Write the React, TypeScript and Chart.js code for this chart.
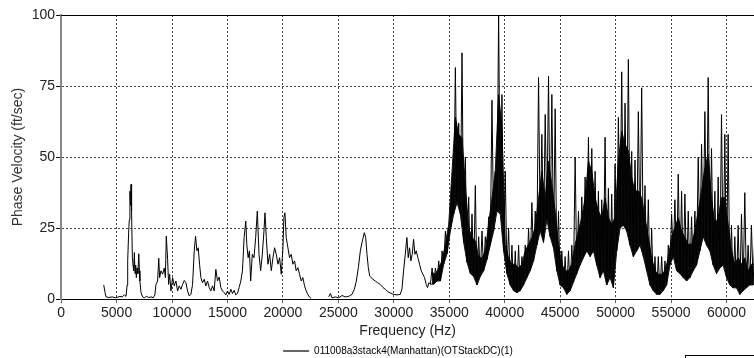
import React, { useEffect, useRef } from 'react';
import { Chart, registerables } from 'chart.js';

Chart.register(...registerables);

const SERIES_LABEL = '011008a3stack4(Manhattan)(OTStackDC)(1)';
const X_TITLE = 'Frequency (Hz)';
const Y_TITLE = 'Phase Velocity (ft/sec)';
const X_MIN = 0;
const X_MAX = 62480;
const X_TICKS = [0, 5000, 10000, 15000, 20000, 25000, 30000, 35000, 40000, 45000, 50000, 55000, 60000];
const Y_MIN = 0;
const Y_MAX = 100;
const Y_TICKS = [0, 25, 50, 75, 100];

// Sparse (single trace) part, 3.8 kHz to 33 kHz. null = no data (gap).
const lowFreq = [
  3840, 3950, 4050, 4300, 4600, 4900, 5100, 5300, 5500, 5700, 5850, 5950, 6000, 6090, 6150, 6200, 6260, 6300, 6340, 6360,
  6420, 6480, 6540, 6600, 6660, 6720, 6780, 6850, 6920, 7000, 7060, 7100, 7200, 7350, 7500, 7700, 7900, 8100, 8300, 8450,
  8550, 8700, 8800, 8880, 9000, 9150, 9300, 9400, 9480, 9600, 9690, 9780, 9900, 10050, 10200, 10350, 10500, 10650, 10800, 10950,
  11100, 11250, 11400, 11550, 11700, 11850, 12000, 12120, 12240, 12360, 12480, 12600, 12750, 12900, 13050, 13200, 13350, 13500, 13650, 13800,
  13950, 14100, 14250, 14400, 14550, 14700, 14850, 15000, 15150, 15300, 15450, 15600, 15750, 15900, 16050, 16200, 16350, 16500, 16650, 16740,
  16860, 16980, 17090, 17240, 17390, 17540, 17690, 17840, 17990, 18140, 18290, 18380, 18500, 18650, 18800, 18950, 19100, 19250, 19400, 19550,
  19700, 19850, 20000, 20085, 20180, 20295, 20450, 20595, 20750, 20895, 21050, 21195, 21350, 21495, 21650, 21795, 21950, 22094, 22240, 22390,
  22540, 23300, 24130, 24280, 24430, 24730, 25030, 25330, 25630, 25930, 26230, 26440, 26620, 26800, 26980, 27160, 27340, 27460, 27580, 27700,
  27820, 27940, 28120, 28330, 28540, 28780, 29020, 29230, 29440, 29680, 29980, 30280, 30580, 30730, 30880, 31030, 31180, 31300, 31420, 31540,
  31660, 31780, 31900, 32020, 32170, 32320, 32470, 32620, 32770, 32920, 33040, 33160,
];
const lowVel: (number | null)[] = [
  5.0, 2.5, 0.8, 0.6, 0.8, 0.5, 0.7, 1.0, 0.8, 1.5, 1.0, 5, 13.5, 24, 28, 38, 33, 40.4, 36, 31,
  14.6, 12, 10, 16.4, 9, 12, 7.6, 11, 9, 16, 10, 6.4, 2.3, 0.8, 0.5, 1.0, 0.6, 0.8, 0.5, 1.5,
  5.2, 6.4, 14.4, 7.6, 10, 8.8, 11, 7.6, 22.2, 14, 5.2, 8.8, 2.9, 7.6, 4.7, 6.4, 2.9, 4.7, 3.5, 5.2,
  6.6, 5.8, 2.9, 1.1, 1.7, 5.2, 17, 22.2, 17, 18.1, 12.3, 7.6, 5.8, 7, 4.7, 6.4, 4.1, 2.9, 4.7, 2.9,
  10.5, 6.4, 7.8, 4.1, 2.9, 2.3, 1.5, 2.9, 1.7, 3.5, 2, 3.1, 1.5, 2, 4.1, 6.4, 10, 21.7, 27.5, 19.3,
  14.6, 17, 6.4, 15.8, 14.6, 21.7, 31, 15.8, 10, 15.8, 24, 30.4, 21.7, 12.3, 15.8, 10, 14.6, 18.1, 15.8, 12.3,
  14.6, 8.8, 18.1, 28.7, 30.4, 21.7, 18.1, 14.6, 15.8, 12.3, 13.5, 10, 11.1, 8.8, 6.4, 7.6, 4.7, 2.9, 1.7, 0.8,
  0.3, null, 0.8, 2, 0.5, 0.8, 0.5, 1.3, 0.8, 1, 1.7, 3.5, 6.4, 11.1, 17, 20.5, 23.4, 21.7, 15.8, 11.1,
  8.2, 7.6, 7, 6.4, 5.8, 5.2, 4.1, 3.5, 2.7, 2.2, 1.7, 1.5, 1.7, 3.5, 10, 15.8, 21.7, 14.6, 18.1, 13.5,
  15.8, 21.1, 15.8, 17, 14.6, 12.3, 10, 8.8, 7.6, 5.2, 4.1, 5.8,
];

// Dense (noisy) part, 300 Hz bins from 33.3 kHz: lowest value, top of the solid
// black mass, and highest excursion (spike) of the trace in each bin.
const denseStartHz = 33300;
const denseStepHz = 300;
const denseLow = [
  5.3, 5.3, 6.4, 6.4, 12.3, 16, 24, 30, 34, 30, 20, 13, 9, 8, 5, 8, 10, 14, 19, 24,
  31, 30, 17, 9, 5, 3, 2.3, 3, 5, 7.6, 10, 13.5, 19, 24, 20, 28, 22, 18, 10, 5,
  4, 1.7, 3, 6, 9, 12, 14.6, 17, 15, 17, 12, 7.6, 10, 5, 7.6, 4, 17, 25, 26, 24,
  19, 15, 17, 19, 15, 10, 5, 3, 1.7, 1.7, 3, 5, 12, 15, 10, 9, 7.6, 6.4, 7.6, 10,
  12, 17, 22, 19, 17, 12, 9, 11, 12, 7.6, 5, 4, 4, 1.7, 3, 4, 5, 5,
];
const denseBulk = [
  9.4, 8.8, 11, 13.5, 19.3, 26.4, 45, 64, 58, 56.8, 40, 25, 21.7, 20.5, 14.6, 14.6, 17, 26.4, 35.7, 45,
  72, 60.4, 19.3, 14.6, 12.3, 12.3, 11, 12.3, 17, 19.3, 21.7, 25.2, 35.7, 45, 35.7, 48.6, 40.4, 31, 19.3, 12.3,
  10, 10, 12.3, 19.3, 24, 28.7, 35.7, 48.6, 45, 35.7, 31, 28.7, 35.7, 28.7, 26.4, 28.7, 48.6, 59.2, 54.5, 52.2,
  42.8, 38.1, 38.1, 35.7, 28.7, 21.7, 14.6, 10, 8.8, 8.8, 10, 14.6, 21.7, 25.2, 28.7, 24, 21.7, 19.3, 19.3, 24,
  31, 38.1, 46.3, 51, 35.7, 26.4, 28.7, 35.7, 35.7, 26.4, 17, 12.3, 14.6, 12.3, 14.6, 10, 12.3, 12.3,
];
const denseHigh = [
  11, 11, 13.5, 17, 24, 25, 40, 81.5, 62, 86.7, 50, 36, 30, 40, 22, 24, 22, 29, 70, 45,
  100, 72, 45, 25, 19, 17, 19, 15, 19, 25, 34, 31, 78, 58, 65, 78.5, 72, 67, 31, 17,
  15, 17, 19, 50, 31, 36, 43, 57, 53, 45, 38, 35, 57, 39, 37, 47.5, 64, 80, 69, 84.4,
  52, 49, 66, 74.4, 40, 35, 25, 15, 15, 15, 13.5, 19, 30, 35, 44, 38, 37, 31, 29, 31,
  50, 54.5, 66, 78, 53, 38, 43, 65, 58, 58, 26, 22, 26, 30, 37.5, 19, 26, 22,
];

type Pt = { x: number; y: number | null };

function traceData(): Pt[] {
  const pts: Pt[] = [];
  for (let i = 0; i < lowFreq.length; i++) pts.push({ x: lowFreq[i], y: lowVel[i] });
  for (let i = 0; i < denseLow.length; i++) {
    const f = denseStartHz + i * denseStepHz;
    pts.push({ x: f, y: denseLow[i] });
    pts.push({ x: f + denseStepHz / 2, y: denseHigh[i] });
  }
  return pts;
}
function envelope(values: number[], shift: number): Pt[] {
  return values.map((v, i) => ({ x: denseStartHz + i * denseStepHz + shift, y: v }));
}

const FONT = 'Liberation Sans, Arial, sans-serif';

const framePlugin = {
  id: 'frame',
  afterDraw(chart: any) {
    const { ctx, chartArea } = chart;
    ctx.save();
    ctx.strokeStyle = '#000';
    ctx.lineWidth = 1;
    ctx.beginPath();
    ctx.moveTo(chartArea.left, Math.round(chartArea.top) + 0.5);
    ctx.lineTo(chartArea.right, Math.round(chartArea.top) + 0.5);
    ctx.stroke();
    // small box at lower right
    ctx.strokeRect(685.5, 355.5, 200, 20);
    ctx.restore();
  },
};

export default function App() {
  const ref = useRef<HTMLCanvasElement | null>(null);
  useEffect(() => {
    if (!ref.current) return;
    const chart = new Chart(ref.current, {
      type: 'line',
      data: {
        datasets: [
          {
            label: SERIES_LABEL,
            data: traceData() as any,
            borderColor: '#000',
            backgroundColor: '#000',
            borderWidth: 1,
            pointRadius: 0,
            tension: 0,
            spanGaps: false,
          },
          {
            label: 'bulk',
            data: envelope(denseBulk, denseStepHz / 2) as any,
            borderColor: '#111',
            borderWidth: 1,
            pointRadius: 0,
            fill: false,
          },
          {
            label: 'low',
            data: envelope(denseLow, 0) as any,
            borderColor: '#111',
            backgroundColor: '#0a0a0a',
            borderWidth: 1,
            pointRadius: 0,
            fill: '-1',
          },
        ],
      },
      options: {
        animation: false,
        responsive: false,
        parsing: false as any,
        layout: { padding: { left: 6, right: 6, top: 15, bottom: 0 } },
        plugins: {
          tooltip: { enabled: false },
          filler: { propagate: false },
          legend: {
            position: 'bottom',
            labels: {
              boxWidth: 26,
              boxHeight: 2,
              padding: 4,
              color: '#222',
              font: { family: FONT, size: 10 },
              generateLabels: () => [
                {
                  text: SERIES_LABEL,
                  fillStyle: '#666',
                  strokeStyle: '#666',
                  lineWidth: 0,
                  hidden: false,
                  datasetIndex: 0,
                } as any,
              ],
            },
          },
        },
        scales: {
          x: {
            type: 'linear',
            min: X_MIN,
            max: X_MAX,
            offset: false,
            afterBuildTicks: (s: any) => {
              s.ticks = X_TICKS.map((value) => ({ value }));
            },
            ticks: {
              autoSkip: false,
              maxRotation: 0,
              color: '#222',
              padding: 2,
              font: { family: FONT, size: 14 },
              callback: (v: any) => String(v),
            },
            grid: { color: '#444', lineWidth: 1, tickLength: 4, tickColor: '#666' },
            border: { color: '#000', width: 1, dash: [2, 2] },
            title: {
              display: true,
              text: X_TITLE,
              color: '#222',
              font: { family: FONT, size: 14, lineHeight: 1.0 },
              padding: { top: 0, bottom: 4 },
            },
          },
          y: {
            type: 'linear',
            min: Y_MIN,
            max: Y_MAX,
            afterBuildTicks: (s: any) => {
              s.ticks = Y_TICKS.map((value) => ({ value }));
            },
            ticks: {
              color: '#222',
              padding: 1,
              font: { family: FONT, size: 14 },
              callback: (v: any) => String(v),
            },
            grid: { color: '#444', lineWidth: 1, tickLength: 5, tickColor: '#000' },
            border: { color: '#888', width: 2, dash: [2, 2] },
            title: {
              display: true,
              text: Y_TITLE,
              color: '#333',
              font: { family: FONT, size: 14 },
              padding: { top: 4, bottom: 4 },
            },
          },
          yRight: {
            type: 'linear',
            position: 'right',
            display: true,
            min: Y_MIN,
            max: Y_MAX,
            grid: { display: false, drawOnChartArea: false },
            border: { display: false },
            ticks: { display: false },
            afterFit: (s: any) => {
              s.width = 36;
            },
          },
        },
      },
      plugins: [framePlugin],
    });
    return () => chart.destroy();
  }, []);

  return (
    <div style={{ position: 'absolute', left: 0, top: 0, width: 754, height: 358, overflow: 'hidden', background: '#fff' }}>
      <canvas ref={ref} width={796} height={366} style={{ display: 'block' }} />
    </div>
  );
}
